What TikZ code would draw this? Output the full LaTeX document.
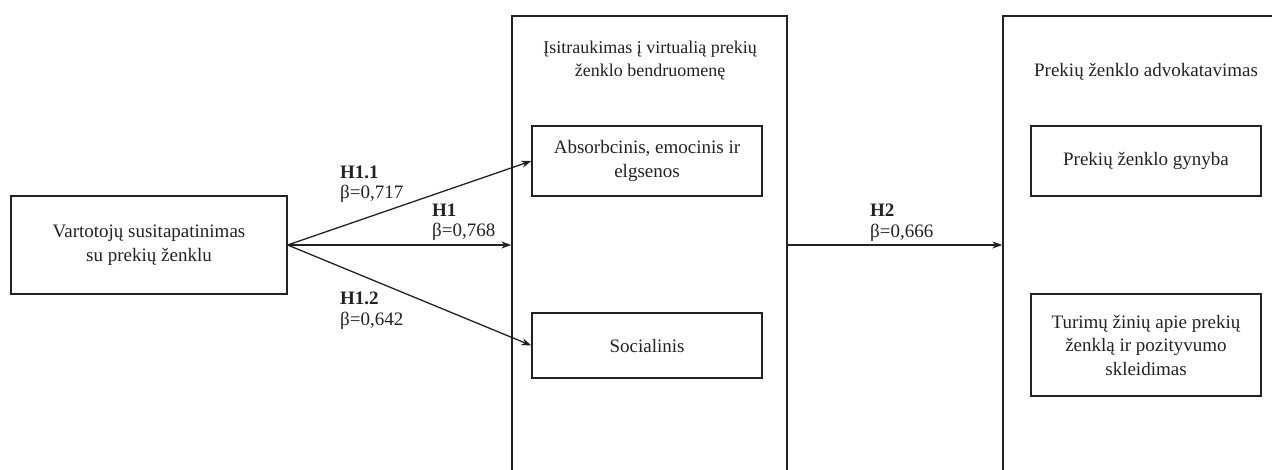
\documentclass[tikz,border=0pt]{standalone}
\usepackage{fontspec}
\setmainfont{Liberation Serif}
\usetikzlibrary{arrows.meta}
\definecolor{ink}{HTML}{222222}
\begin{document}
\begin{tikzpicture}[x=1pt,y=-1pt,
  box/.style={draw=ink,line width=1.3pt,align=center,inner sep=0pt,text=ink,
    font=\fontsize{19}{23.5}\selectfont},
  frame/.style={draw=ink,line width=1.3pt,inner sep=0pt},
  ttl/.style={align=center,inner sep=0pt,text=ink},
  lbl/.style={anchor=west,inner sep=0pt,text=ink,font=\fontsize{19}{23}\selectfont},
  arr/.style={draw=ink,line width=1.3pt,-{Stealth[length=10pt,width=7pt]}}]
\clip (0,0) rectangle (1272,469);
% left box
\node[box,minimum width=276,minimum height=98] (vart) at (149,245)
  {Vartotojų susitapatinimas\\su prekių ženklu};
% middle frame
\node[frame,minimum width=275,minimum height=520] (mid) at (649.5,276) {};
\node[ttl,font=\fontsize{18}{23}\selectfont] (midt) at (650,61)
  {Įsitraukimas į virtualią prekių\\ženklo bendruomenę};
\node[box,minimum width=230,minimum height=70] (abs) at (647,161)
  {Absorbcinis, emocinis ir\\elgsenos};
\node[box,minimum width=230,minimum height=65] (soc) at (647,345.5)
  {Socialinis};
% right frame
\node[frame,minimum width=400,minimum height=520] (adv) at (1203,276) {};
\node[ttl,font=\fontsize{19}{23}\selectfont] (advt) at (1146,72)
  {Prekių ženklo advokatavimas};
\node[box,minimum width=230,minimum height=70] (gyn) at (1146,161)
  {Prekių ženklo gynyba};
\node[box,minimum width=230,minimum height=102] (tur) at (1146,345)
  {Turimų žinių apie prekių\\ženklą ir pozityvumo\\skleidimas};
% arrows
\draw[arr] (vart.east) -- (abs.west);
\draw[arr] (vart.east) -- (vart.east -| mid.west);
\draw[arr] (vart.east) -- (soc.west);
\draw[arr] (vart.east -| mid.east) -- (vart.east -| adv.west);
% labels
\node[lbl,font=\fontsize{19}{23}\selectfont\bfseries] (h11) at (340,172) {H1.1};
\node[lbl] (b11) at (340,194) {β=0,717};
\node[lbl,font=\fontsize{19}{23}\selectfont\bfseries] (h1) at (432,210) {H1};
\node[lbl] (b1) at (432,232) {β=0,768};
\node[lbl,font=\fontsize{19}{23}\selectfont\bfseries] (h12) at (340,298) {H1.2};
\node[lbl] (b12) at (340,321) {β=0,642};
\node[lbl,font=\fontsize{19}{23}\selectfont\bfseries] (h2) at (870,210) {H2};
\node[lbl] (b2) at (870,233) {β=0,666};
\end{tikzpicture}
\end{document}
